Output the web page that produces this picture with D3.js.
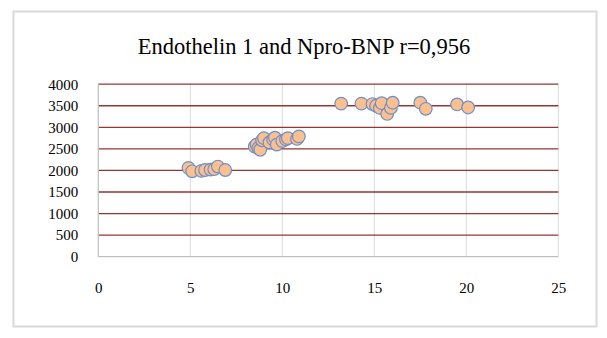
<!DOCTYPE html>
<html><head><meta charset="utf-8">
<script src="https://cdn.jsdelivr.net/npm/d3@7"></script>
<style>body{margin:0;background:#fff}svg{display:block}text{font-family:"Liberation Serif","Times New Roman",serif;fill:#000}</style>
</head><body>
<svg id="c" width="607" height="338"></svg>
<script>
const title = "Endothelin 1 and Npro-BNP r=0,956";
const endothelin = [4.9,5.1,5.6,5.8,6.1,6.3,6.5,6.9,
  8.5,8.6,8.7,8.8,8.9,9.0,9.3,9.5,9.6,9.7,10.0,10.2,10.3,10.8,10.9,
  13.2,14.3,14.9,15.1,15.3,15.4,15.7,15.9,16.0,17.5,17.8,19.5,20.1];
const nproBNP = [2060,1980,1990,2010,2020,2030,2090,2010,
  2550,2600,2520,2480,2700,2750,2650,2720,2760,2600,2680,2720,2750,2730,2790,
  3550,3550,3540,3500,3450,3560,3310,3450,3570,3570,3430,3530,3460];
const xTicks = [0,5,10,15,20,25];
const yTicks = [0,500,1000,1500,2000,2500,3000,3500,4000];

const svg = d3.select("#c");
svg.append("rect").attr("x",13.5).attr("y",11.5).attr("width",583).attr("height",315)
  .attr("fill","#fff").attr("stroke","#d9d9d9").attr("stroke-width",2);
svg.append("text").attr("x",304).attr("y",54).attr("text-anchor","middle")
  .style("font-size","22.5px").text(title);

const x = d3.scaleLinear().domain([0,25]).range([98.3,558.3]);
const y = d3.scaleLinear().domain([0,4000]).range([256.7,84.2]);

svg.append("g").selectAll("line").data(xTicks.filter(d=>d>0)).join("line")
  .attr("x1",d=>x(d)).attr("x2",d=>x(d)).attr("y1",y(0)).attr("y2",y(4000))
  .attr("stroke","#d9d9d9").attr("stroke-width",1);
svg.append("g").selectAll("line").data(yTicks.filter(d=>d>0)).join("line")
  .attr("x1",x(0)).attr("x2",x(25)).attr("y1",d=>y(d)).attr("y2",d=>y(d))
  .attr("stroke","#943634").attr("stroke-width",1.3);
svg.append("line").attr("x1",x(0)).attr("x2",x(25)).attr("y1",y(0)).attr("y2",y(0))
  .attr("stroke","#bfbfbf").attr("stroke-width",1.2);
svg.append("line").attr("x1",x(0)).attr("x2",x(0)).attr("y1",y(0)).attr("y2",y(4000))
  .attr("stroke","#bfbfbf").attr("stroke-width",1.2);

const yAxis = d3.axisLeft(y).tickValues(yTicks).tickFormat(d3.format("d")).tickSize(0).tickPadding(20);
const gy = svg.append("g").attr("transform",`translate(${x(0)},0)`).call(yAxis);
gy.select(".domain").remove();
gy.selectAll("text").style("font-size","15px").style("font-family","Liberation Serif, serif").attr("fill","#000");

const xAxis = d3.axisBottom(x).tickValues(xTicks).tickFormat(d3.format("d")).tickSize(0).tickPadding(26);
const gx = svg.append("g").attr("transform",`translate(0,${y(0)})`).call(xAxis);
gx.select(".domain").remove();
gx.selectAll("text").style("font-size","15px").style("font-family","Liberation Serif, serif").attr("fill","#000");

svg.append("g").selectAll("circle").data(d3.range(endothelin.length)).join("circle")
  .attr("cx",i=>x(endothelin[i])).attr("cy",i=>y(nproBNP[i])).attr("r",6.3)
  .attr("fill","#fac090").attr("stroke","#6d8fc8").attr("stroke-width",1.2);
</script>
</body></html>
